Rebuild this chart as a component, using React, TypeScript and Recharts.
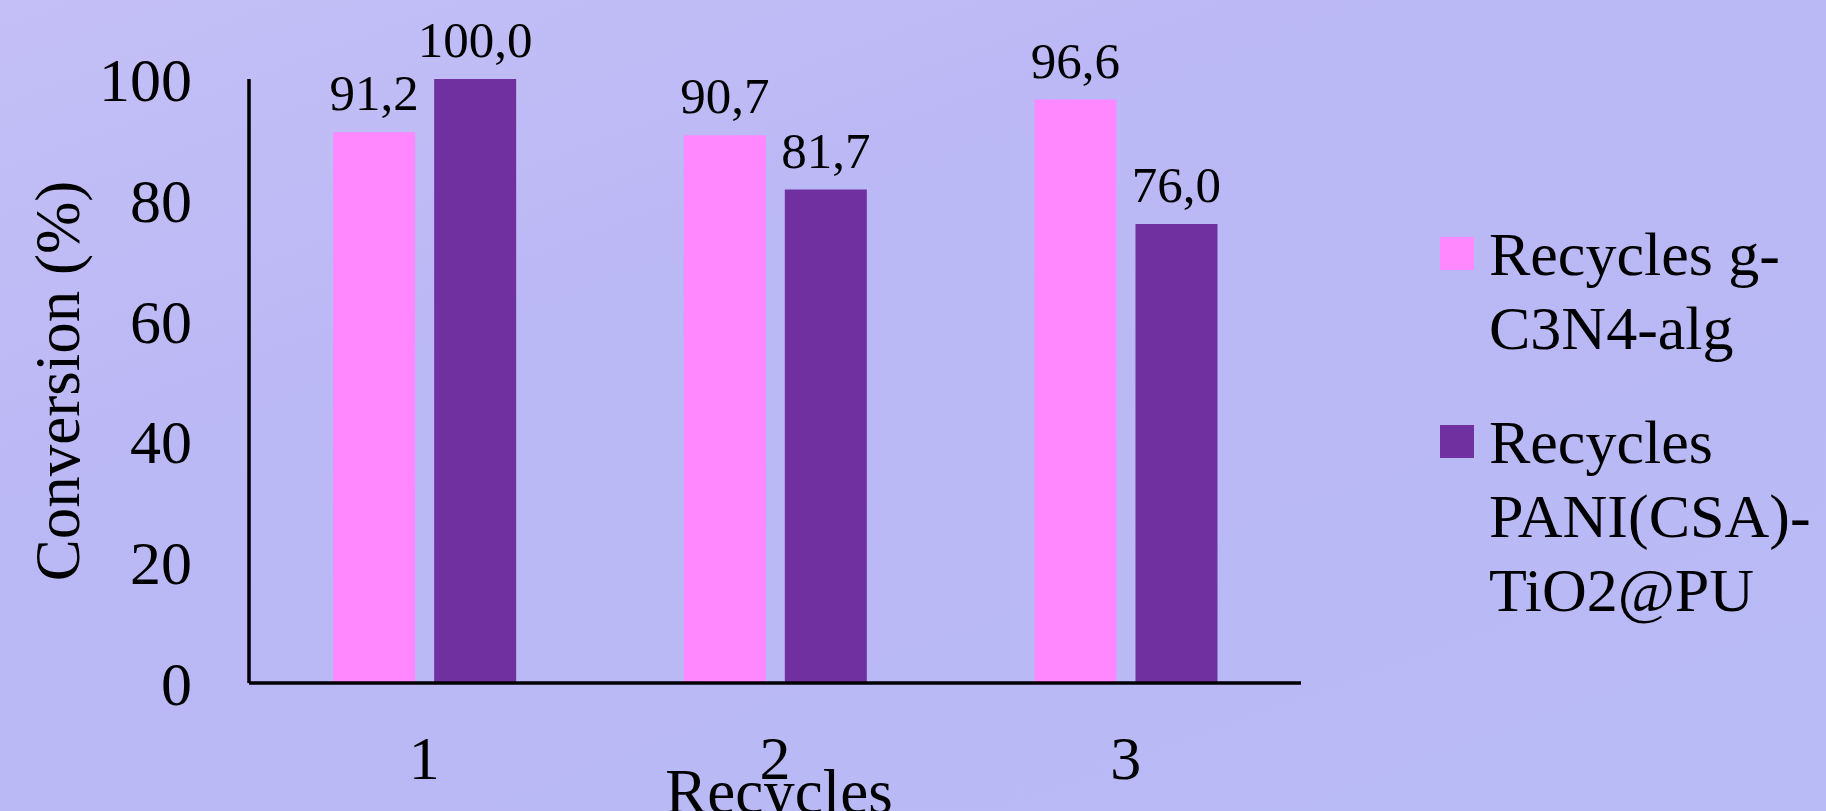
import { Bar, BarChart, LabelList, Legend, XAxis, YAxis } from 'recharts';

const categories = ['1', '2', '3'];
const gC3N4Values = [91.2, 90.7, 96.6];
const paniValues = [100.0, 81.7, 76.0];
const yTicks = [0, 20, 40, 60, 80, 100];

const seriesNames = ['Recycles g-C3N4-alg', 'Recycles PANI(CSA)-TiO2@PU'];
const seriesColors = ['#FF87FF', '#7030A0'];

const data = categories.map((name, i) => ({
  name,
  gc3n4: gC3N4Values[i],
  pani: paniValues[i],
}));

const FONT = '"Liberation Serif", "Times New Roman", serif';

const fmt = (v) => Number(v).toFixed(1).replace('.', ',');

const renderLegend = () => (
  <div style={{ fontFamily: FONT, fontSize: 62, lineHeight: '74px', color: '#000', textAlign: 'left' }}>
    {seriesNames.map((s, i) => (
      <div key={s} style={{ display: 'flex', alignItems: 'flex-start', marginBottom: i === 0 ? 40 : 0 }}>
        <div
          style={{
            width: 34,
            height: 33,
            background: seriesColors[i],
            marginTop: 20,
            marginRight: 15,
            flexShrink: 0,
          }}
        />
        <div style={{ width: 340 }}>{s}</div>
      </div>
    ))}
  </div>
);

const App = () => {
  return (
    <div
      style={{
        position: 'absolute',
        left: 0,
        top: 0,
        width: 1826,
        height: 811,
        overflow: 'hidden',
        background: 'linear-gradient(160deg, #C4BFF6 0%, #BAB8F5 35%, #B9B9F5 70%, #B8BBF6 100%)',
      }}
    >
      <BarChart
        width={1826}
        height={811}
        data={data}
        margin={{ top: 79, right: 525, bottom: 0, left: 0 }}
        barCategoryGap='24%'
        barGap={19}
      >
        <XAxis
          dataKey='name'
          height={128}
          axisLine={{ stroke: '#000', strokeWidth: 3.5 }}
          tickLine={false}
          tickSize={0}
          tickMargin={52}
          tick={{ fill: '#000', fontSize: 62, fontFamily: FONT }}
          label={{
            content: ({ viewBox }) => (
              <text
                x={viewBox.x + viewBox.width / 2 + 4}
                y={813}
                textAnchor='middle'
                fill='#000'
                fontSize={63}
                fontFamily={FONT}
              >
                Recycles
              </text>
            ),
          }}
        />
        <YAxis
          width={249}
          domain={[0, 100]}
          ticks={yTicks}
          interval={0}
          axisLine={{ stroke: '#000', strokeWidth: 3.5 }}
          tickLine={false}
          tickSize={0}
          tickMargin={57}
          tick={{ fill: '#000', fontSize: 62, fontFamily: FONT }}
          label={{
            content: ({ viewBox }) => {
              const cx = 58;
              const cy = viewBox.y + viewBox.height / 2;
              return (
                <text
                  x={cx}
                  y={cy}
                  transform={`rotate(-90 ${cx} ${cy})`}
                  textAnchor='middle'
                  dominantBaseline='central'
                  fill='#000'
                  fontSize={63}
                  fontFamily={FONT}
                >
                  Conversion (%)
                </text>
              );
            },
          }}
        />
        <Legend
          content={renderLegend}
          layout='horizontal'
          align='center'
          verticalAlign='middle'
          wrapperStyle={{ position: 'absolute', left: 1440, top: 217, width: 400 }}
        />
        <Bar dataKey='gc3n4' name={seriesNames[0]} fill={seriesColors[0]} isAnimationActive={false}>
          <LabelList
            dataKey='gc3n4'
            position='top'
            offset={22}
            formatter={fmt}
            style={{ fill: '#000', fontSize: 51, fontFamily: FONT }}
          />
        </Bar>
        <Bar dataKey='pani' name={seriesNames[1]} fill={seriesColors[1]} isAnimationActive={false}>
          <LabelList
            dataKey='pani'
            position='top'
            offset={22}
            formatter={fmt}
            style={{ fill: '#000', fontSize: 51, fontFamily: FONT }}
          />
        </Bar>
      </BarChart>
    </div>
  );
};

export default App;
